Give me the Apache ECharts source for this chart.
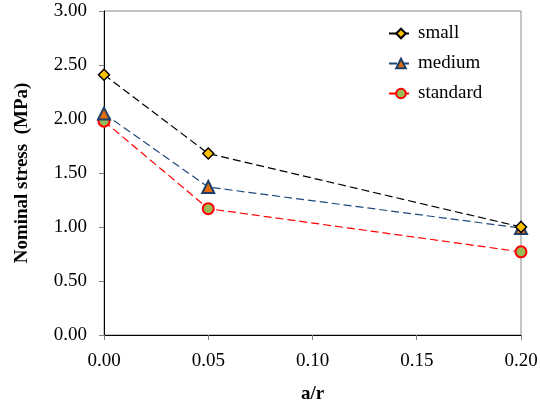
<!DOCTYPE html>
<html>
<head>
<meta charset="utf-8">
<script src="https://cdn.jsdelivr.net/npm/echarts@6/dist/echarts.min.js"></script>
<style>
  html, body { margin: 0; padding: 0; background: #fff; }
  #chart { width: 540px; height: 402px; }
</style>
</head>
<body>
<div id="chart"></div>
<script>
// a/r ratios on the horizontal axis
const ratios = [0.00, 0.05, 0.20];
// Nominal stress (MPa) per specimen size
const smallStress = [2.41, 1.68, 1.00];
const mediumStress = [2.05, 1.37, 0.99];
const standardStress = [1.98, 1.17, 0.77];
const seriesNames = ['small', 'medium', 'standard'];

const pairs = (xs, ys) => xs.map((x, i) => [x, ys[i]]);
const font = '"Liberation Serif", "Times New Roman", serif';

const chart = echarts.init(document.getElementById('chart'), null, { renderer: 'canvas' });

chart.setOption({
  animation: false,
  backgroundColor: '#ffffff',
  textStyle: { fontFamily: font },
  grid: {
    left: 104, right: 19, top: 11, bottom: 67,
    containLabel: false, outerBoundsMode: 'none',
    show: true, borderColor: '#8c8c8c', borderWidth: 1
  },
  legend: {
    orient: 'vertical',
    left: 383, top: 19,
    itemWidth: 24, itemHeight: 12, itemGap: 11,
    textStyle: { fontFamily: font, fontSize: 19, color: '#000' },
    data: seriesNames
  },
  xAxis: {
    type: 'value', min: 0, max: 0.2, interval: 0.05,
    name: 'a/r', nameLocation: 'middle', nameGap: 50,
    nameTextStyle: { fontFamily: font, fontSize: 19, fontWeight: 'bold', color: '#000' },
    axisLine: { show: true, onZero: false, lineStyle: { color: '#000', width: 1 } },
    axisTick: { show: true, inside: false, length: 5, lineStyle: { color: '#808080' } },
    axisLabel: { fontFamily: font, fontSize: 19, color: '#000', margin: 17,
      formatter: v => v.toFixed(2) },
    splitLine: { show: false }
  },
  yAxis: {
    type: 'value', min: 0, max: 3, interval: 0.5,
    name: 'Nominal stress  (MPa)', nameLocation: 'middle', nameGap: 72, nameRotate: 90,
    nameTextStyle: { fontFamily: font, fontSize: 19, fontWeight: 'bold', color: '#000' },
    axisLine: { show: true, lineStyle: { color: '#000', width: 1 } },
    axisTick: { show: true, inside: false, length: 5, lineStyle: { color: '#808080' } },
    axisLabel: { fontFamily: font, fontSize: 19, color: '#000', margin: 17,
      formatter: v => v.toFixed(2) },
    splitLine: { show: false }
  },
  series: [
    {
      name: 'small', type: 'line', data: pairs(ratios, smallStress),
      symbol: 'diamond', symbolSize: 11,
      itemStyle: { color: '#FFC000', borderColor: '#000', borderWidth: 1.5 },
      lineStyle: { color: '#000', width: 1.2, type: [8, 4] },
      z: 3
    },
    {
      name: 'medium', type: 'line', data: pairs(ratios, mediumStress),
      symbol: 'triangle', symbolSize: 12,
      itemStyle: { color: '#E46C0A', borderColor: '#1F3F6B', borderWidth: 2 },
      lineStyle: { color: '#1F497D', width: 1.2, type: [8, 4] },
      z: 2
    },
    {
      name: 'standard', type: 'line', data: pairs(ratios, standardStress),
      symbol: 'circle', symbolSize: 11,
      itemStyle: { color: '#9BBB59', borderColor: '#FF0000', borderWidth: 2 },
      lineStyle: { color: '#FF0000', width: 1.2, type: [8, 4] },
      z: 1
    }
  ]
});
</script>
</body>
</html>
